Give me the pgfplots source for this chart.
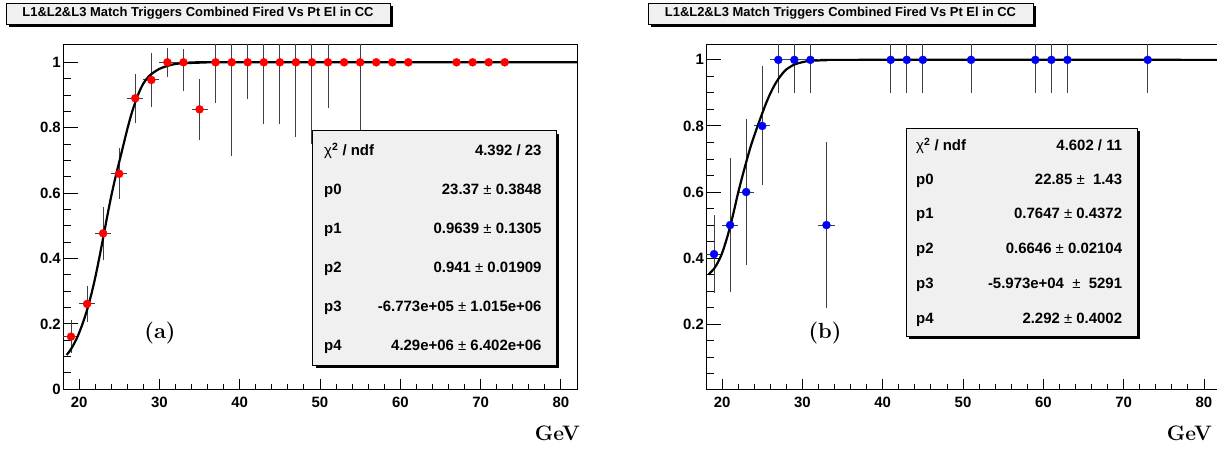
\documentclass[border=0pt]{standalone}
\usepackage{fontspec}
\usepackage{pgfplots}
\pgfplotsset{compat=1.18}
\newfontfamily\hv{Liberation Sans}
\definecolor{boxgray}{RGB}{240,240,240}
\definecolor{mred}{RGB}{255,0,0}
\definecolor{mblue}{RGB}{0,0,255}
\newcommand{\tickfont}{\hv\bfseries\fontsize{15}{15}\selectfont}
\newcommand{\statfont}{\hv\bfseries\fontsize{15}{15}\selectfont}
\pgfplotsset{
  rootframe/.style={
    scale only axis, width=514bp, height=344.3bp,
    xmin=18, xmax=82, anchor=south west,
    axis line style={line width=1bp},
    tick align=inside, tick pos=left,
    tick style={black, line width=0.9bp},
    /pgf/number format/assume math mode=true,
  },
  rooty/.style={
    rootframe,
    ytick={0,0.2,0.4,0.6,0.8,1}, minor y tick num=3,
    xtick=\empty,
    major tick length=15bp, minor tick length=8bp,
    yticklabel style={font=\tickfont, anchor=east, inner sep=0pt, xshift=-2bp},
    clip=true,
  },
  rootx/.style={
    rootframe,
    ytick=\empty,
    xtick={20,30,40,50,60,70,80}, minor x tick num=4,
    major tick length=10bp, minor tick length=5bp,
    xticklabel style={font=\tickfont, anchor=north, inner sep=0pt, yshift=-8bp},
  },
  errstyle/.style={
    error bars/.cd, x dir=both, x explicit, y dir=both, y explicit,
    error mark=none, error bar style={black!75, line width=1bp},
  },
}
\begin{document}
\begin{tikzpicture}[x=1bp,y=1bp]
\path[use as bounding box] (0,0) rectangle (1217,450);

% ---------------- left panel ----------------
\begin{axis}[rootx, at={(63bp,60.7bp)}, ymin=0, ymax=1.053]
\end{axis}
\begin{axis}[rooty, at={(63bp,60.7bp)}, ymin=0, ymax=1.053]
\addplot[only marks, mark=*, mark size=4bp, mark options={draw=mred, fill=mred}, errstyle]
  table[x=x, y=y, x error=ex, y error plus=eyp, y error minus=eym] {
x y ex eyp eym
19 0.161 1 0.05 0.05
21 0.261 1 0.054 0.054
23 0.477 1 0.081 0.081
25 0.659 1 0.078 0.078
27 0.890 1 0.075 0.075
29 0.946 1 0.083 0.084
31 1.0 1 0.043 0.044
33 1.0 1 0.04 0.087
35 0.856 1 0.093 0.093
37 1 1 0.125 0.125
39 1 1 0.286 0.286
41 1 1 0.113 0.113
43 1 1 0.189 0.189
45 1 1 0.189 0.189
47 1 1 0.228 0.228
49 1 1 0.25 0.25
51 1 1 0.14 0.14
53 1 1 0 0
55 1 1 0.3 0.3
57 1 1 0 0
59 1 1 0 0
61 1 1 0 0
67 1 1 0 0
69 1 1 0 0
71 1 1 0 0
73 1 1 0 0
};
\addplot[black, line width=2.2bp, smooth, no marks] coordinates {
(18.46,0.105) (19.0,0.123) (19.5,0.145) (20.0,0.172) (20.5,0.205) (21.0,0.243)
(21.5,0.288) (22.0,0.34) (22.5,0.40) (23.0,0.463) (23.5,0.528) (24.0,0.59)
(24.5,0.645) (25.0,0.695) (25.5,0.745) (26.0,0.795) (26.5,0.84) (27.0,0.878)
(27.5,0.91) (28.0,0.935) (28.5,0.952) (29.0,0.964) (30.0,0.98) (31.0,0.989)
(32.0,0.995) (33.0,0.997) (35.0,0.999) (37,1.0) (82,1.0)
};
\end{axis}

% ---------------- right panel ----------------
\begin{axis}[rootx, at={(706bp,60.7bp)}, ymin=0.003, ymax=1.045]
\end{axis}
\begin{axis}[rooty, at={(706bp,60.7bp)}, ymin=0.003, ymax=1.045]
\addplot[only marks, mark=*, mark size=4bp, mark options={draw=mblue, fill=mblue}, errstyle]
  table[x=x, y=y, x error=ex, y error plus=eyp, y error minus=eym] {
x y ex eyp eym
19 0.412 1 0.119 0.118
21 0.5 1 0.203 0.203
23 0.6 1 0.22 0.22
25 0.8 1 0.18 0.18
27 1 1 0.1 0.1
29 1 1 0.1 0.1
31 1 1 0.1 0.1
33 0.5 1 0.25 0.25
41 1 1 0.1 0.1
43 1 1 0.1 0.1
45 1 1 0.1 0.1
51 1 1 0.1 0.1
59 1 1 0.1 0.1
61 1 1 0.1 0.1
63 1 1 0.1 0.1
73 1 1 0.1 0.1
};
\addplot[black, line width=2.2bp, smooth, no marks] coordinates {
(18.3,0.35) (19.0,0.368) (19.5,0.388) (20.0,0.415) (20.5,0.452) (21.0,0.495)
(21.5,0.545) (22.0,0.598) (22.5,0.645) (23.0,0.69) (23.5,0.733) (24.0,0.77)
(24.5,0.805) (25.0,0.838) (25.5,0.87) (26.0,0.898) (26.5,0.922) (27.0,0.942)
(27.5,0.958) (28.0,0.971) (29.0,0.986) (30.0,0.993) (31.0,0.997) (33.0,0.999)
(36,1.0) (82,1.0)
};
\end{axis}

% ---------------- titles ----------------
\fill[black] (9,423) rectangle (393,444);
\filldraw[fill=boxgray, draw=black, line width=0.8] (6,426) rectangle (390,447);
\node[font=\hv\bfseries\fontsize{13}{13}\selectfont] at (198,436.5) {L1\&L2\&L3 Match Triggers Combined Fired Vs Pt El in CC};
\fill[black] (651,423) rectangle (1036,444);
\filldraw[fill=boxgray, draw=black, line width=0.8] (648,426) rectangle (1033,447);
\node[font=\hv\bfseries\fontsize{13}{13}\selectfont] at (840.5,436.5) {L1\&L2\&L3 Match Triggers Combined Fired Vs Pt El in CC};

% ---------------- stat box left ----------------
\fill[black] (315.7,82) rectangle (559,316.3);
\filldraw[fill=boxgray, draw=black, line width=0.8] (312.7,85) rectangle (556,319.3);
\begin{scope}[every node/.style={font=\statfont, inner sep=0pt}]
\node[anchor=base west] at (324,294.6) {{\mdseries χ}\textsuperscript{2} / ndf};
\node[anchor=base east] at (541.7,294.6) {4.392 / 23};
\node[anchor=base west] at (324,255.5) {p0};
\node[anchor=base east] at (541.7,255.5) {23.37 {\mdseries ±} 0.3848};
\node[anchor=base west] at (324,216.4) {p1};
\node[anchor=base east] at (541.7,216.4) {0.9639 {\mdseries ±} 0.1305};
\node[anchor=base west] at (324,177.3) {p2};
\node[anchor=base east] at (541.7,177.3) {0.941 {\mdseries ±} 0.01909};
\node[anchor=base west] at (324,138.2) {p3};
\node[anchor=base east] at (541.7,138.2) {-6.773e+05 {\mdseries ±} 1.015e+06};
\node[anchor=base west] at (324,99.1) {p4};
\node[anchor=base east] at (541.7,99.1) {4.29e+06 {\mdseries ±} 6.402e+06};
\end{scope}

% ---------------- stat box right ----------------
\fill[black] (909,111) rectangle (1140.3,318.7);
\filldraw[fill=boxgray, draw=black, line width=0.8] (906,114) rectangle (1137.3,321.7);
\begin{scope}[every node/.style={font=\statfont, inner sep=0pt}]
\node[anchor=base west] at (916,299.6) {{\mdseries χ}\textsuperscript{2} / ndf};
\node[anchor=base east] at (1122.3,299.6) {4.602 / 11};
\node[anchor=base west] at (916,265.3) {p0};
\node[anchor=base east] at (1122.3,265.3) {22.85 {\mdseries ±}\ \ 1.43};
\node[anchor=base west] at (916,231.3) {p1};
\node[anchor=base east] at (1122.3,231.3) {0.7647 {\mdseries ±} 0.4372};
\node[anchor=base west] at (916,196.3) {p2};
\node[anchor=base east] at (1122.3,196.3) {0.6646 {\mdseries ±} 0.02104};
\node[anchor=base west] at (916,161.3) {p3};
\node[anchor=base east] at (1122.3,161.3) {-5.973e+04\ \ {\mdseries ±}\ \ 5291};
\node[anchor=base west] at (916,126.3) {p4};
\node[anchor=base east] at (1122.3,126.3) {2.292 {\mdseries ±} 0.4002};
\end{scope}

% ---------------- labels ----------------
\node[font=\bfseries\fontsize{22}{22}\selectfont] at (160,117) {(a)};
\node[font=\bfseries\fontsize{22}{22}\selectfont] at (825,117) {(b)};
\node[font=\bfseries\fontsize{21}{21}\selectfont, anchor=base east, inner sep=0pt] at (580,9) {GeV};
\node[font=\bfseries\fontsize{21}{21}\selectfont, anchor=base east, inner sep=0pt] at (1212,9) {GeV};
\end{tikzpicture}
\end{document}
